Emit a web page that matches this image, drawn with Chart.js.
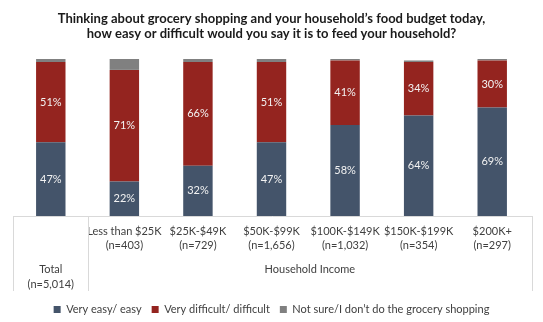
<!DOCTYPE html>
<html>
<head>
<meta charset="utf-8">
<script src="https://cdn.jsdelivr.net/npm/chart.js@4"></script>
<style>
  html, body { margin: 0; padding: 0; background: #fff; }
  #wrap { width: 543px; height: 322px; }
</style>
</head>
<body>
<div id="wrap"><canvas id="chart"></canvas></div>
<script>
const categories = ['Total', 'Less than $25K', '$25K-$49K', '$50K-$99K', '$100K-$149K', '$150K-$199K', '$200K+'];
const sample_sizes = ['(n=5,014)', '(n=403)', '(n=729)', '(n=1,656)', '(n=1,032)', '(n=354)', '(n=297)'];
const group_label = 'Household Income';
const easy = [47, 22, 32, 47, 58, 64, 69];
const difficult = [51, 71, 66, 51, 41, 34, 30];
const not_sure = [2, 7, 2, 2, 1, 1, 1];

const font_family = 'Lato, "Open Sans", sans-serif';
const text_color = '#404040';

// white percentage labels inside the two main segments
const segment_labels = {
  id: 'segment_labels',
  afterDatasetsDraw (chart) {
    const ctx = chart.ctx;
    ctx.save();
    ctx.font = '11px ' + font_family;
    ctx.fillStyle = '#f2f2f2';
    ctx.textAlign = 'center';
    ctx.textBaseline = 'middle';
    [0, 1].forEach(d => {
      const meta = chart.getDatasetMeta(d);
      meta.data.forEach((bar, i) => {
        const p = bar.getProps(['x', 'y', 'base'], true);
        ctx.fillText(chart.data.datasets[d].data[i] + '%', p.x, (p.y + p.base) / 2);
      });
    });
    ctx.restore();
  }
};

// table lines under the axis and the grouped labels
const axis_table = {
  id: 'axis_table',
  afterDraw (chart) {
    const ctx = chart.ctx;
    const area = chart.chartArea;
    const x = chart.scales.x;
    const left = area.left - 1;
    const right = area.right + 3;
    const bottom = area.bottom + 75;
    const divider = (x.getPixelForValue(0) + x.getPixelForValue(1)) / 2;
    ctx.save();
    ctx.strokeStyle = '#d9d9d9';
    ctx.lineWidth = 1;
    ctx.beginPath();
    ctx.moveTo(left, area.bottom + 0.5);
    ctx.lineTo(right, area.bottom + 0.5);
    [left, divider, right].forEach(px => {
      ctx.moveTo(Math.round(px) + 0.5, area.bottom);
      ctx.lineTo(Math.round(px) + 0.5, bottom);
    });
    ctx.stroke();
    ctx.font = '11px ' + font_family;
    ctx.fillStyle = text_color;
    ctx.textAlign = 'center';
    ctx.textBaseline = 'middle';
    const total_x = x.getPixelForValue(0);
    ctx.fillText(categories[0], total_x, area.bottom + 53);
    ctx.fillText(sample_sizes[0], total_x, area.bottom + 68);
    ctx.fillText(group_label, (divider + right) / 2, area.bottom + 53);
    ctx.restore();
  }
};

new Chart(document.getElementById('chart'), {
  type: 'bar',
  data: {
    labels: categories,
    datasets: [
      { label: 'Very easy/ easy', data: easy, backgroundColor: '#44546a' },
      { label: 'Very difficult/ difficult', data: difficult, backgroundColor: '#94241f' },
      { label: 'Not sure/I don\u2019t do the grocery shopping', data: not_sure, backgroundColor: '#808080' }
    ]
  },
  options: {
    responsive: true,
    maintainAspectRatio: false,
    animation: false,
    events: [],
    datasets: {
      bar: { barPercentage: 0.4, categoryPercentage: 1, borderWidth: 0 }
    },
    layout: { padding: { left: 14, right: 14, top: 0, bottom: -3 } },
    scales: {
      x: {
        stacked: true,
        grid: { display: false },
        border: { display: false },
        afterFit (scale) { scale.height = 78; },
        ticks: {
          autoSkip: false,
          maxRotation: 0,
          padding: 0,
          color: text_color,
          font: { family: font_family, size: 11, lineHeight: 1.3 },
          callback: (v, i) => i === 0 ? '' : [categories[i], sample_sizes[i]]
        }
      },
      y: {
        stacked: true,
        display: false,
        min: 0,
        max: 100
      }
    },
    plugins: {
      title: {
        display: true,
        text: [
          'Thinking about grocery shopping and your household\u2019s food budget today,',
          'how easy or difficult would you say it is to feed your household?'
        ],
        color: '#1a1a1a',
        font: { family: font_family, size: 13, weight: 'bold', lineHeight: 1.15 },
        padding: { top: 11, bottom: 18 }
      },
      legend: {
        position: 'bottom',
        labels: {
          boxWidth: 7,
          boxHeight: 7,
          padding: 10,
          color: text_color,
          font: { family: font_family, size: 11 }
        }
      },
      tooltip: { enabled: false }
    }
  },
  plugins: [segment_labels, axis_table]
});
</script>
</body>
</html>
